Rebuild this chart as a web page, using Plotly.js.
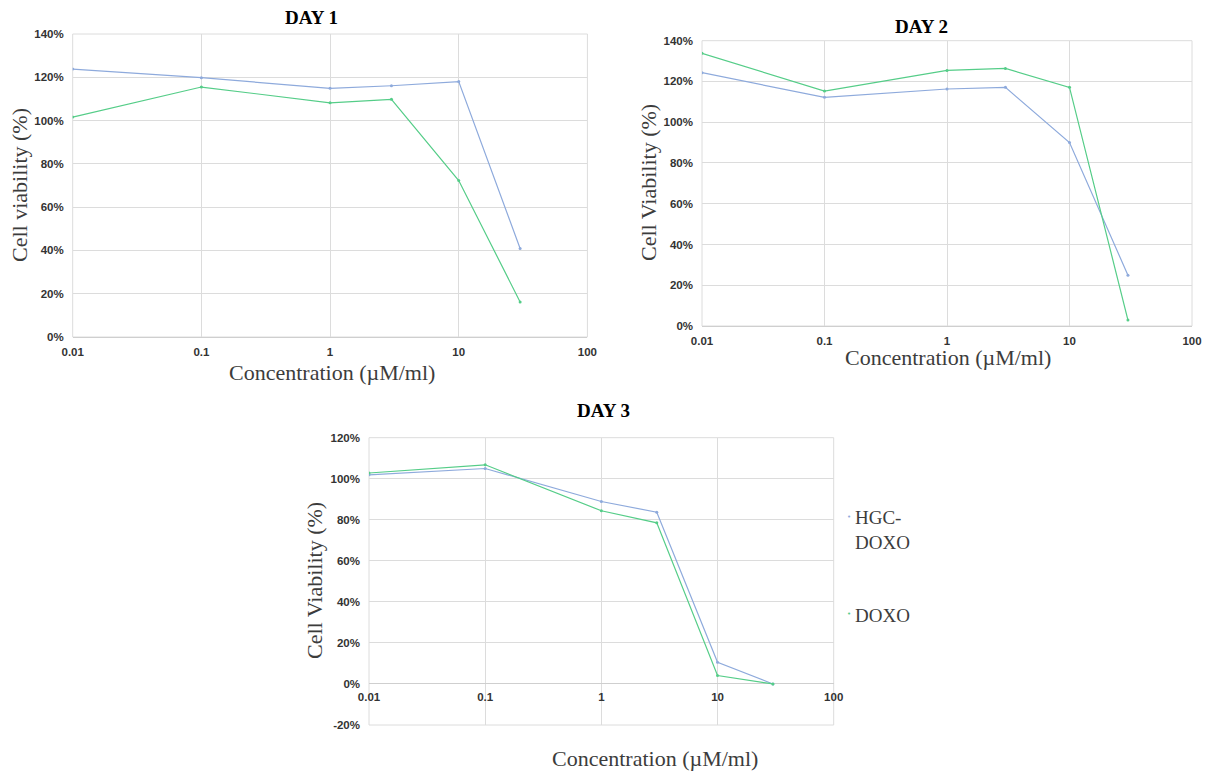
<!DOCTYPE html>
<html>
<head>
<meta charset="utf-8">
<script src="https://cdn.plot.ly/plotly-3.0.1.min.js"></script>
<style>
  html, body { margin: 0; padding: 0; background: #ffffff; }
  #chart { width: 1205px; height: 771px; }
</style>
</head>
<body>
<div id="chart"></div>
<script>
// Drug concentrations tested (µM/ml)
const concentrations = [0.01, 0.1, 1, 3, 10, 30];

// Cell viability (%) per day
const day1Hgc  = [123.8, 119.8, 114.9, 116.1, 118.0, 40.9];
const day1Doxo = [101.6, 115.5, 108.2, 109.8, 72.3, 16.2];
const day2Hgc  = [124.3, 112.2, 116.3, 117.1, 90.0, 24.9];
const day2Doxo = [133.8, 115.3, 125.4, 126.4, 117.1, 2.9];
const day3Hgc  = [101.9, 105.0, 88.9, 83.7, 10.6, 0];
const day3Doxo = [102.8, 106.8, 84.4, 78.5, 4.1, 0];

// Axis ticks
const xTickVals = [0.01, 0.1, 1, 10, 100];
const xTickText = ['0.01', '0.1', '1', '10', '100'];
const yTicksDay12 = [0, 20, 40, 60, 80, 100, 120, 140];
const yTicksDay3 = [-20, 0, 20, 40, 60, 80, 100, 120];

// Labels
const panelTitles = ['DAY 1', 'DAY 2', 'DAY 3'];
const yTitles = ['Cell viability (%)', 'Cell Viability (%)', 'Cell Viability (%)'];
const xTitle = 'Concentration (\u00b5M/ml)';
const seriesNames = ['HGC-<br>DOXO', 'DOXO'];

const W = 1205, H = 771;
const fx = p => p / W;
const fy = p => 1 - p / H;

const BLUE = '#8eaadc';
const GREEN = '#55cd88';
const GRID = '#dcdcdc';
const TICK_FONT = { family: 'Liberation Sans, Arial, sans-serif', size: 11.5, color: '#333333', weight: 'bold' };
const SERIF = 'Liberation Serif, Times New Roman, serif';

function line(x, y, color, xa, ya) {
  return {
    x: x, y: y, type: 'scatter', mode: 'lines+markers',
    xaxis: xa, yaxis: ya, showlegend: false, hoverinfo: 'x+y',
    line: { color: color, width: 1.2 },
    marker: { color: color, size: 3 }
  };
}

const traces = [
  line(concentrations, day1Hgc, BLUE, 'x', 'y'),
  line(concentrations, day1Doxo, GREEN, 'x', 'y'),
  line(concentrations, day2Hgc, BLUE, 'x2', 'y2'),
  line(concentrations, day2Doxo, GREEN, 'x2', 'y2'),
  line(concentrations, day3Hgc, BLUE, 'x3', 'y3'),
  line(concentrations, day3Doxo, GREEN, 'x3', 'y3')
];

function xAxis(domain, anchor, extra) {
  return Object.assign({
    type: 'log', domain: domain, anchor: anchor,
    range: [Math.log10(0.01), Math.log10(100)],
    tickmode: 'array', tickvals: xTickVals, ticktext: xTickText,
    showgrid: true, gridcolor: GRID, gridwidth: 1,
    showline: false, zeroline: false, ticks: '',
    tickfont: TICK_FONT, ticklabelstandoff: 6, fixedrange: true
  }, extra || {});
}

function yAxis(domain, anchor, range, ticks) {
  return {
    domain: domain, anchor: anchor, range: range,
    tickmode: 'array', tickvals: ticks, ticktext: ticks.map(v => v + '%'),
    showgrid: true, gridcolor: GRID, gridwidth: 1,
    zeroline: true, zerolinecolor: '#cfcfcf', zerolinewidth: 1,
    showline: false, ticks: '',
    tickfont: TICK_FONT, ticklabelstandoff: 8, fixedrange: true
  };
}

const d1x = [fx(72.7), fx(587.4)], d1y = [fy(337), fy(34)];
const d2x = [fx(702), fx(1192)],   d2y = [fy(326), fy(40.7)];
const d3x = [fx(369), fx(833.7)],  d3y = [fy(725), fy(437.7)];
const y3Range = [-20, 120];
// Day 3 labels sit on the 0% line
const zeroPos3 = d3y[0] + (d3y[1] - d3y[0]) * (0 - y3Range[0]) / (y3Range[1] - y3Range[0]);

function border(xa, ya) {
  return {
    type: 'rect', xref: xa + ' domain', yref: ya + ' domain',
    x0: 0, x1: 1, y0: 0, y1: 1, line: { color: GRID, width: 1 }, layer: 'below'
  };
}

function text(t, x, y, font, extra) {
  return Object.assign({
    text: t, x: fx(x), y: fy(y), xref: 'paper', yref: 'paper',
    showarrow: false, font: font, xanchor: 'center', yanchor: 'middle'
  }, extra || {});
}

const titleFont = { family: SERIF, size: 19, color: '#000000', weight: 'bold' };
const axisTitleFont = { family: SERIF, size: 22, color: '#3c3c3c' };
const legendFont = { family: SERIF, size: 19, color: '#3c3c3c' };

const layout = {
  width: W, height: H,
  margin: { l: 0, r: 0, t: 0, b: 0 },
  paper_bgcolor: '#ffffff', plot_bgcolor: '#ffffff',
  showlegend: false,
  xaxis: xAxis(d1x, 'y'),
  yaxis: yAxis(d1y, 'x', [0, 140], yTicksDay12),
  xaxis2: xAxis(d2x, 'y2'),
  yaxis2: yAxis(d2y, 'x2', [0, 140], yTicksDay12),
  xaxis3: xAxis(d3x, 'free', { position: zeroPos3, ticklabelstandoff: 5 }),
  yaxis3: yAxis(d3y, 'x3', y3Range, yTicksDay3),
  shapes: [border('x', 'y'), border('x2', 'y2'), border('x3', 'y3')],
  annotations: [
    text(panelTitles[0], 311, 17, titleFont),
    text(panelTitles[1], 922, 27, titleFont),
    text(panelTitles[2], 603, 410, titleFont),
    text(yTitles[0], 19, 185, axisTitleFont, { textangle: -90 }),
    text(yTitles[1], 648, 183, axisTitleFont, { textangle: -90 }),
    text(yTitles[2], 314, 581, axisTitleFont, { textangle: -90 }),
    text(xTitle, 332, 372, axisTitleFont),
    text(xTitle, 948, 357, axisTitleFont),
    text(xTitle, 655, 758, axisTitleFont),
    // legend
    text('\u2022', 849, 517, { family: 'DejaVu Sans', size: 7, color: BLUE }),
    text(seriesNames[0], 853, 530, legendFont, { xanchor: 'left', align: 'left' }),
    text('\u2022', 849, 614, { family: 'DejaVu Sans', size: 7, color: GREEN }),
    text(seriesNames[1], 853, 615, legendFont, { xanchor: 'left', align: 'left' })
  ]
};

Plotly.newPlot('chart', traces, layout, { staticPlot: true, displayModeBar: false });
</script>
</body>
</html>
